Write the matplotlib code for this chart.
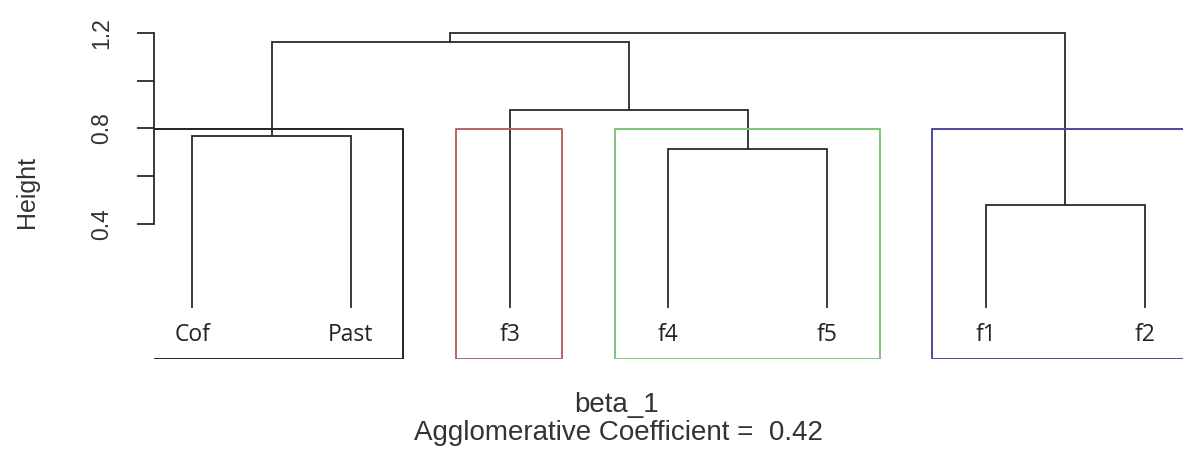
"""
Dendrogram (agnes style) with cluster boxes
"""
import matplotlib.pyplot as plt

# leaf labels in plotting order
labels = ["Cof", "Past", "f3", "f4", "f5", "f1", "f2"]

# merges, R convention: negative = leaf (1-based), positive = earlier merge
merge_left = [-6, -4, -1, -3, 3, 5]
merge_right = [-7, -5, -2, 2, 4, 1]
merge_height = [0.478, 0.712, 0.768, 0.877, 1.162, 1.197]
leaf_bottom = 0.052

# clusters cut at 0.8: first and last leaf index (1-based) of each box
cut_height = 0.797
box_first = [1, 3, 4, 6]
box_last = [2, 3, 5, 7]
box_colors = ["#222222", "#b86464", "#7cc47c", "#4c4a9c"]

yticks = [0.4, 0.6, 0.8, 1.0, 1.2]
ytick_labels = ["0.4", "", "0.8", "", "1.2"]

W, H = 1186, 449
fig = plt.figure(figsize=(W / 100, H / 100), dpi=100)
ax = fig.add_axes([154 / W, (H - 359) / H, (1183 - 154) / W, (359 - 20) / H])

n = len(labels)
ax.set_xlim(1 - 0.04 * (n - 1), n + 0.04 * (n - 1))
ax.set_ylim(-0.165, 1.2 + 12.7 / 239)

line_col = "#2a2a2a"
lw = 1.3

# x position and height of every node
node_x = {}
node_h = {}


def child(c):
    if c < 0:
        return -c, leaf_bottom
    return node_x[c], node_h[c]


for i, (a, b, h) in enumerate(zip(merge_left, merge_right, merge_height), start=1):
    xa, ha = child(a)
    xb, hb = child(b)
    node_x[i] = (xa + xb) / 2
    node_h[i] = h
    ax.plot([xa, xa, xb, xb], [ha, h, h, hb], color=line_col, lw=lw,
            solid_joinstyle="miter", clip_on=False)

for i, lab in enumerate(labels, start=1):
    ax.text(i, -0.065, lab, ha="center", va="center", fontsize=16.5,
            family="Open Sans", color="#222222")

# rect.hclust like boxes, clipped to the plot region
for f, l, c in zip(box_first, box_last, box_colors):
    x0 = f - 1 + 0.66
    x1 = l + 0.33
    y0 = ax.get_ylim()[0]
    ax.plot([x0, x0, x1, x1, x0], [y0, cut_height, cut_height, y0, y0],
            color=c, lw=1.4, clip_on=True)

for s in ["top", "right", "bottom"]:
    ax.spines[s].set_visible(False)
ax.spines["left"].set_bounds(0.4, 1.2)
ax.spines["left"].set_color(line_col)
ax.spines["left"].set_linewidth(lw)
ax.set_xticks([])
ax.set_yticks(yticks)
ax.set_yticklabels(ytick_labels, rotation=90, va="center", fontsize=16.5,
                   family="Liberation Sans", color="#333333")
ax.tick_params(axis="y", length=12.5, width=lw, color=line_col, pad=17)

fig.text(27 / W, 1 - 192 / H, "Height", rotation=90, ha="center", va="center",
         fontsize=18, family="Liberation Sans", color="#333333")
fig.text(617 / W, 1 - 405 / H, "beta_1", ha="center", va="center",
         fontsize=20, family="Liberation Sans", color="#333333")
fig.text(618 / W, 1 - 433 / H, "Agglomerative Coefficient =  0.42", ha="center",
         va="center", fontsize=20, family="Liberation Sans", color="#333333")

fig.savefig("out.png", dpi=100, facecolor="white")
